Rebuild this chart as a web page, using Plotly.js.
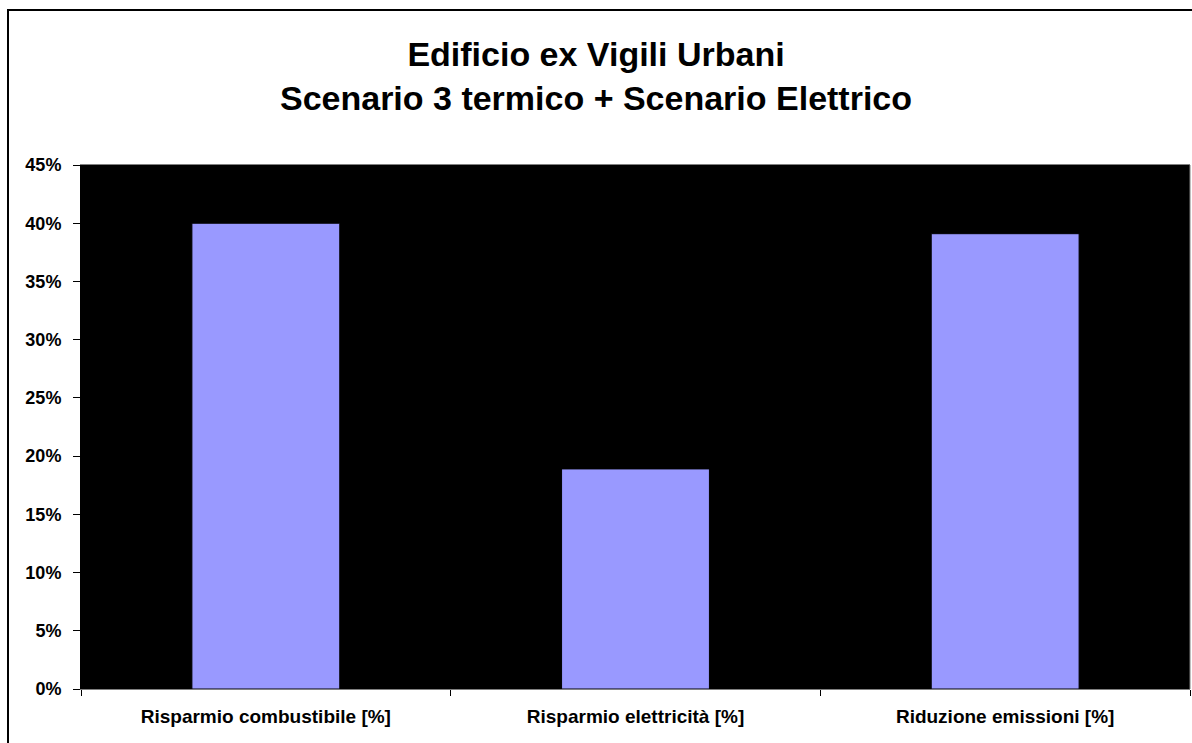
<!DOCTYPE html>
<html>
<head>
<meta charset="utf-8">
<script src="https://cdn.plot.ly/plotly-3.0.1.min.js"></script>
<style>html,body{margin:0;padding:0;background:#fff;overflow:hidden}#chart{width:1192px;height:743px}</style>
</head>
<body>
<div id="chart"></div>
<script>
const categories = ["Risparmio combustibile [%]", "Risparmio elettricità [%]", "Riduzione emissioni [%]"];
const values = [40.0, 18.9, 39.1];
const yTickVals = [0, 5, 10, 15, 20, 25, 30, 35, 40, 45];
const titleLines = ["Edificio ex Vigili Urbani", "Scenario 3 termico + Scenario Elettrico"];

const FONT = "Liberation Sans, Arial, Helvetica, sans-serif";

const trace = {
  type: "bar",
  x: categories,
  y: values,
  marker: {color: "#9999FF", line: {color: "#000000", width: 1}},
  hoverinfo: "none"
};

const layout = {
  width: 1192,
  height: 743,
  margin: {l: 81, r: 2, t: 165, b: 54},
  paper_bgcolor: "#ffffff",
  plot_bgcolor: "#000000",
  bargap: 0.6,
  showlegend: false,
  title: {
    text: titleLines.join("<br>"),
    font: {family: FONT, size: 34, color: "#000000", weight: "bold"},
    x: 0.5, xanchor: "center",
    y: 1 - 66 / 743, yanchor: "middle", yref: "container"
  },
  xaxis: {
    type: "category",
    showline: true, linecolor: "#808080", linewidth: 1, mirror: true,
    ticks: "outside", tickson: "boundaries", ticklen: 6, tickcolor: "#000000", tickwidth: 1,
    ticklabelstandoff: 10,
    showgrid: false, zeroline: false,
    tickfont: {family: FONT, size: 19, color: "#000000", weight: "bold"},
    automargin: false
  },
  yaxis: {
    range: [0, 45],
    tickvals: yTickVals,
    ticktext: yTickVals.map(v => v + "%"),
    showline: true, linecolor: "#000000", linewidth: 1,
    ticks: "outside", ticklen: 7, tickcolor: "#000000", tickwidth: 1,
    ticklabelstandoff: 8,
    showgrid: false, zeroline: false,
    tickfont: {family: FONT, size: 18, color: "#000000", weight: "bold"},
    automargin: false
  },
  shapes: [
    {type: "line", xref: "paper", yref: "paper", x0: 1, x1: 1, y0: 0, y1: 1,
     line: {color: "#808080", width: 1}},
    {type: "rect", xref: "paper", yref: "paper",
     x0: (8 - 81) / 1109, x1: 1.1, y0: -0.5, y1: (689 - 10) / 524,
     line: {color: "#000000", width: 2}, fillcolor: "rgba(0,0,0,0)", layer: "above"}
  ]
};

Plotly.newPlot("chart", [trace], layout, {displayModeBar: false, staticPlot: true});
</script>
</body>
</html>
